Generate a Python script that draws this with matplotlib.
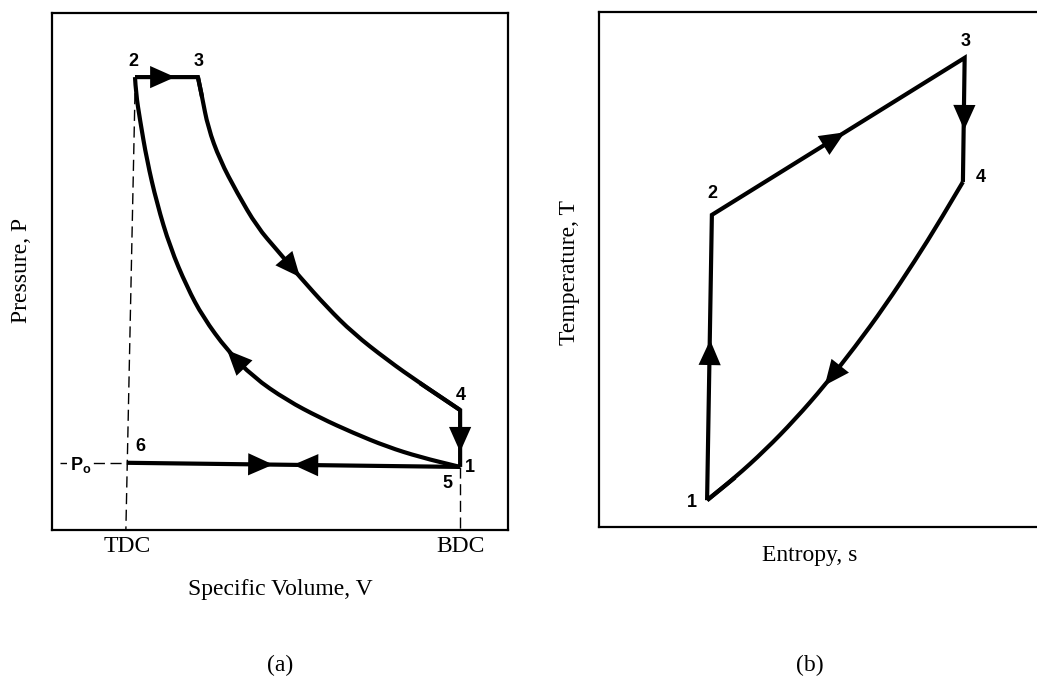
import numpy as np
import matplotlib
matplotlib.use("Agg")
import matplotlib.pyplot as plt
import matplotlib.transforms as mtransforms
from matplotlib.path import Path
from matplotlib.patches import PathPatch

# ---- data (arbitrary units, 0-100 across each box) ----
# (a) P-V diagram
pv_labels = ["1", "2", "3", "4", "5", "6"]
V_tdc = 16.4
V_bdc = 89.5
P_o = 13.0

# heat addition 2 -> 3 (constant pressure)
V_23 = [18.2, 32.0]
P_23 = [87.6, 87.6]

# expansion 3 -> 4
V_exp = [32.0, 32.9, 34.2, 36.8, 40.6, 45.0, 49.3, 54.4, 60.3, 66.0, 73.5, 80.7, 89.5]
P_exp = [87.6, 83.8, 77.9, 71.6, 65.2, 58.6, 54.2, 48.9, 43.1, 38.1, 32.9, 28.4, 23.2]

# blowdown 4 -> 1
V_41 = [89.5, 89.5]
P_41 = [23.2, 12.2]

# compression 1 -> 2
V_cmp = [89.5, 80.7, 73.5, 66.0, 58.8, 51.5, 44.1, 38.4, 33.1, 29.6, 25.9, 23.0, 20.8, 19.3, 18.4, 18.2]
P_cmp = [12.2, 14.1, 16.1, 18.8, 21.7, 25.1, 29.6, 34.8, 41.2, 47.0, 54.7, 63.2, 71.6, 79.3, 84.5, 87.6]

# exhaust / intake stroke 6 <-> 1
V_61 = [16.4, 89.5]
P_61 = [13.0, 12.2]

# (b) T-s diagram
s_pts = [24.8, 25.9, 83.9, 83.5]      # states 1, 2, 3, 4
T_pts = [5.2, 60.6, 91.1, 67.0]
# heat rejection 4 -> 1 (listed from 1 up to 4)
s_rej = [24.8, 31.2, 38.1, 45.0, 51.8, 58.7, 65.6, 72.5, 78.2, 83.5]
T_rej = [5.2, 9.6, 14.9, 20.9, 27.5, 34.9, 42.9, 51.7, 59.4, 67.0]

# ---- figure ----
W, H = 1037, 686
fig = plt.figure(figsize=(W / 100, H / 100), dpi=100)
fig.patch.set_facecolor("white")

serif = "Liberation Serif"
sans = "Liberation Sans"
LW = 3.0


def px_ax(x0, y0, x1, y1):
    return fig.add_axes([x0 / W, 1 - y1 / H, (x1 - x0) / W, (y1 - y0) / H])


def smooth(ax, xs, ys):
    # quadratic bezier through midpoints, read points used as control points
    pts = list(zip(xs, ys))
    verts = [pts[0]]
    codes = [Path.MOVETO]
    m = ((pts[0][0] + pts[1][0]) / 2, (pts[0][1] + pts[1][1]) / 2)
    verts.append(m)
    codes.append(Path.LINETO)
    for i in range(1, len(pts) - 1):
        if i < len(pts) - 2:
            end = ((pts[i][0] + pts[i + 1][0]) / 2, (pts[i][1] + pts[i + 1][1]) / 2)
        else:
            end = pts[i + 1]
        verts += [pts[i], end]
        codes += [Path.CURVE3, Path.CURVE3]
    ax.add_patch(PathPatch(Path(verts, codes), facecolor="none", edgecolor="black",
                           lw=LW, joinstyle="miter", capstyle="butt"))


def head(ax, tip, tail):
    ax.annotate("", xy=tip, xytext=tail,
                arrowprops=dict(arrowstyle="-|>,head_length=0.9,head_width=0.4",
                                color="black", lw=0, mutation_scale=20,
                                shrinkA=0, shrinkB=0))


def num(ax, txt, xy, dx, dy):
    ax.annotate(txt, xy=xy, xytext=(dx, dy), textcoords="offset pixels",
                ha="center", va="center", fontsize=13, fontweight="bold",
                family=sans, annotation_clip=False)


line_kw = dict(color="black", lw=LW, solid_joinstyle="miter", solid_capstyle="butt")
dash_kw = dict(color="black", lw=1.0, dashes=(8, 4))

# ---------- (a) ----------
ax1 = px_ax(52, 13, 508, 530)
ax1.set_xlim(0, 100)
ax1.set_ylim(0, 100)
ax1.set_xticks([])
ax1.set_yticks([])
for sp in ax1.spines.values():
    sp.set_linewidth(1.6)

ax1.plot([18.2, V_tdc - 0.2], [84.5, 0], **dash_kw)
ax1.plot([V_bdc, V_bdc], [P_41[1], 0], **dash_kw)
ax1.plot([1.8, V_tdc], [P_o, P_o], **dash_kw)
ax1.text(6.2, P_o - 0.4, r"P$_\mathregular{o}$", ha="center", va="center",
         fontsize=13, family=sans, fontweight="bold",
         bbox=dict(facecolor="white", edgecolor="none", pad=1.5))

ax1.plot(V_23 + [V_exp[1]], P_23 + [P_exp[1]], **line_kw)
smooth(ax1, V_exp, P_exp)
ax1.plot([V_exp[-2]] + V_41, [P_exp[-2]] + P_41, **line_kw)
smooth(ax1, V_cmp, P_cmp)
ax1.plot(V_61, P_61, **line_kw)

head(ax1, (27.0, 87.6), (V_23[0], 87.6))
head(ax1, (V_exp[7], P_exp[7]), (V_exp[6], P_exp[6]))
head(ax1, (V_cmp[7], P_cmp[7]), (V_cmp[6], P_cmp[6]))
head(ax1, (V_bdc, 15.1), (V_bdc, P_41[0]))
head(ax1, (48.5, np.interp(48.5, V_61, P_61)), (V_61[0], P_61[0]))
head(ax1, (52.9, np.interp(52.9, V_61, P_61)), (V_61[1], P_61[1]))

num(ax1, pv_labels[1], (V_23[0], P_23[0]), -2, 16)
num(ax1, pv_labels[2], (V_23[1], P_23[1]), 1, 16)
num(ax1, pv_labels[3], (V_41[0], P_41[0]), 1, 15)
num(ax1, pv_labels[0], (V_41[1], P_41[1]), 10, -1)
num(ax1, pv_labels[4], (V_41[1], P_41[1]), -13, -17)
num(ax1, pv_labels[5], (V_61[0], P_61[0]), 14, 16)

tr1 = mtransforms.blended_transform_factory(ax1.transData, ax1.transAxes)
ax1.text(V_tdc, -0.012, "TDC", transform=tr1, ha="center", va="top",
         fontsize=17, family=serif)
ax1.text(V_bdc, -0.012, "BDC", transform=tr1, ha="center", va="top",
         fontsize=17, family=serif)

fig.text(280 / W, 1 - 590 / H, "Specific Volume, V", ha="center", va="center",
         fontsize=17, family=serif)
fig.text(22 / W, 1 - 270 / H, "Pressure, P", ha="center", va="center",
         rotation=90, fontsize=17, family=serif)
fig.text(280 / W, 1 - 665 / H, "(a)", ha="center", va="center",
         fontsize=17, family=serif)

# ---------- (b) ----------
ax2 = px_ax(599, 12, 1037, 527)
ax2.set_xlim(0, 100.5)
ax2.set_ylim(0, 100)
ax2.set_xticks([])
ax2.set_yticks([])
for sp in ax2.spines.values():
    sp.set_linewidth(1.6)
ax2.spines["right"].set_visible(False)

ax2.plot(s_pts, T_pts, **line_kw)
ax2.plot([s_rej[0], s_rej[1]], [T_rej[0], T_rej[1]], **line_kw)
smooth(ax2, s_rej, T_rej)

head(ax2, (25.5, 36.3), (s_pts[0], T_pts[0]))
head(ax2, (56.4, np.interp(56.4, s_pts[1:3], T_pts[1:3])), (s_pts[1], T_pts[1]))
head(ax2, (83.8, 77.1), (s_pts[2], T_pts[2]))
head(ax2, (s_rej[4], T_rej[4]), (s_rej[5], T_rej[5]))

num(ax2, "1", (s_pts[0], T_pts[0]), -15, -2)
num(ax2, "2", (s_pts[1], T_pts[1]), 0, 21)
num(ax2, "3", (s_pts[2], T_pts[2]), 1, 16)
num(ax2, "4", (s_pts[3], T_pts[3]), 18, 4)

fig.text(810 / W, 1 - 555 / H, "Entropy, s", ha="center", va="center",
         fontsize=17, family=serif)
fig.text(570 / W, 1 - 272 / H, "Temperature, T", ha="center", va="center",
         rotation=90, fontsize=17, family=serif)
fig.text(810 / W, 1 - 665 / H, "(b)", ha="center", va="center",
         fontsize=17, family=serif)

fig.savefig("out.png", dpi=100)
